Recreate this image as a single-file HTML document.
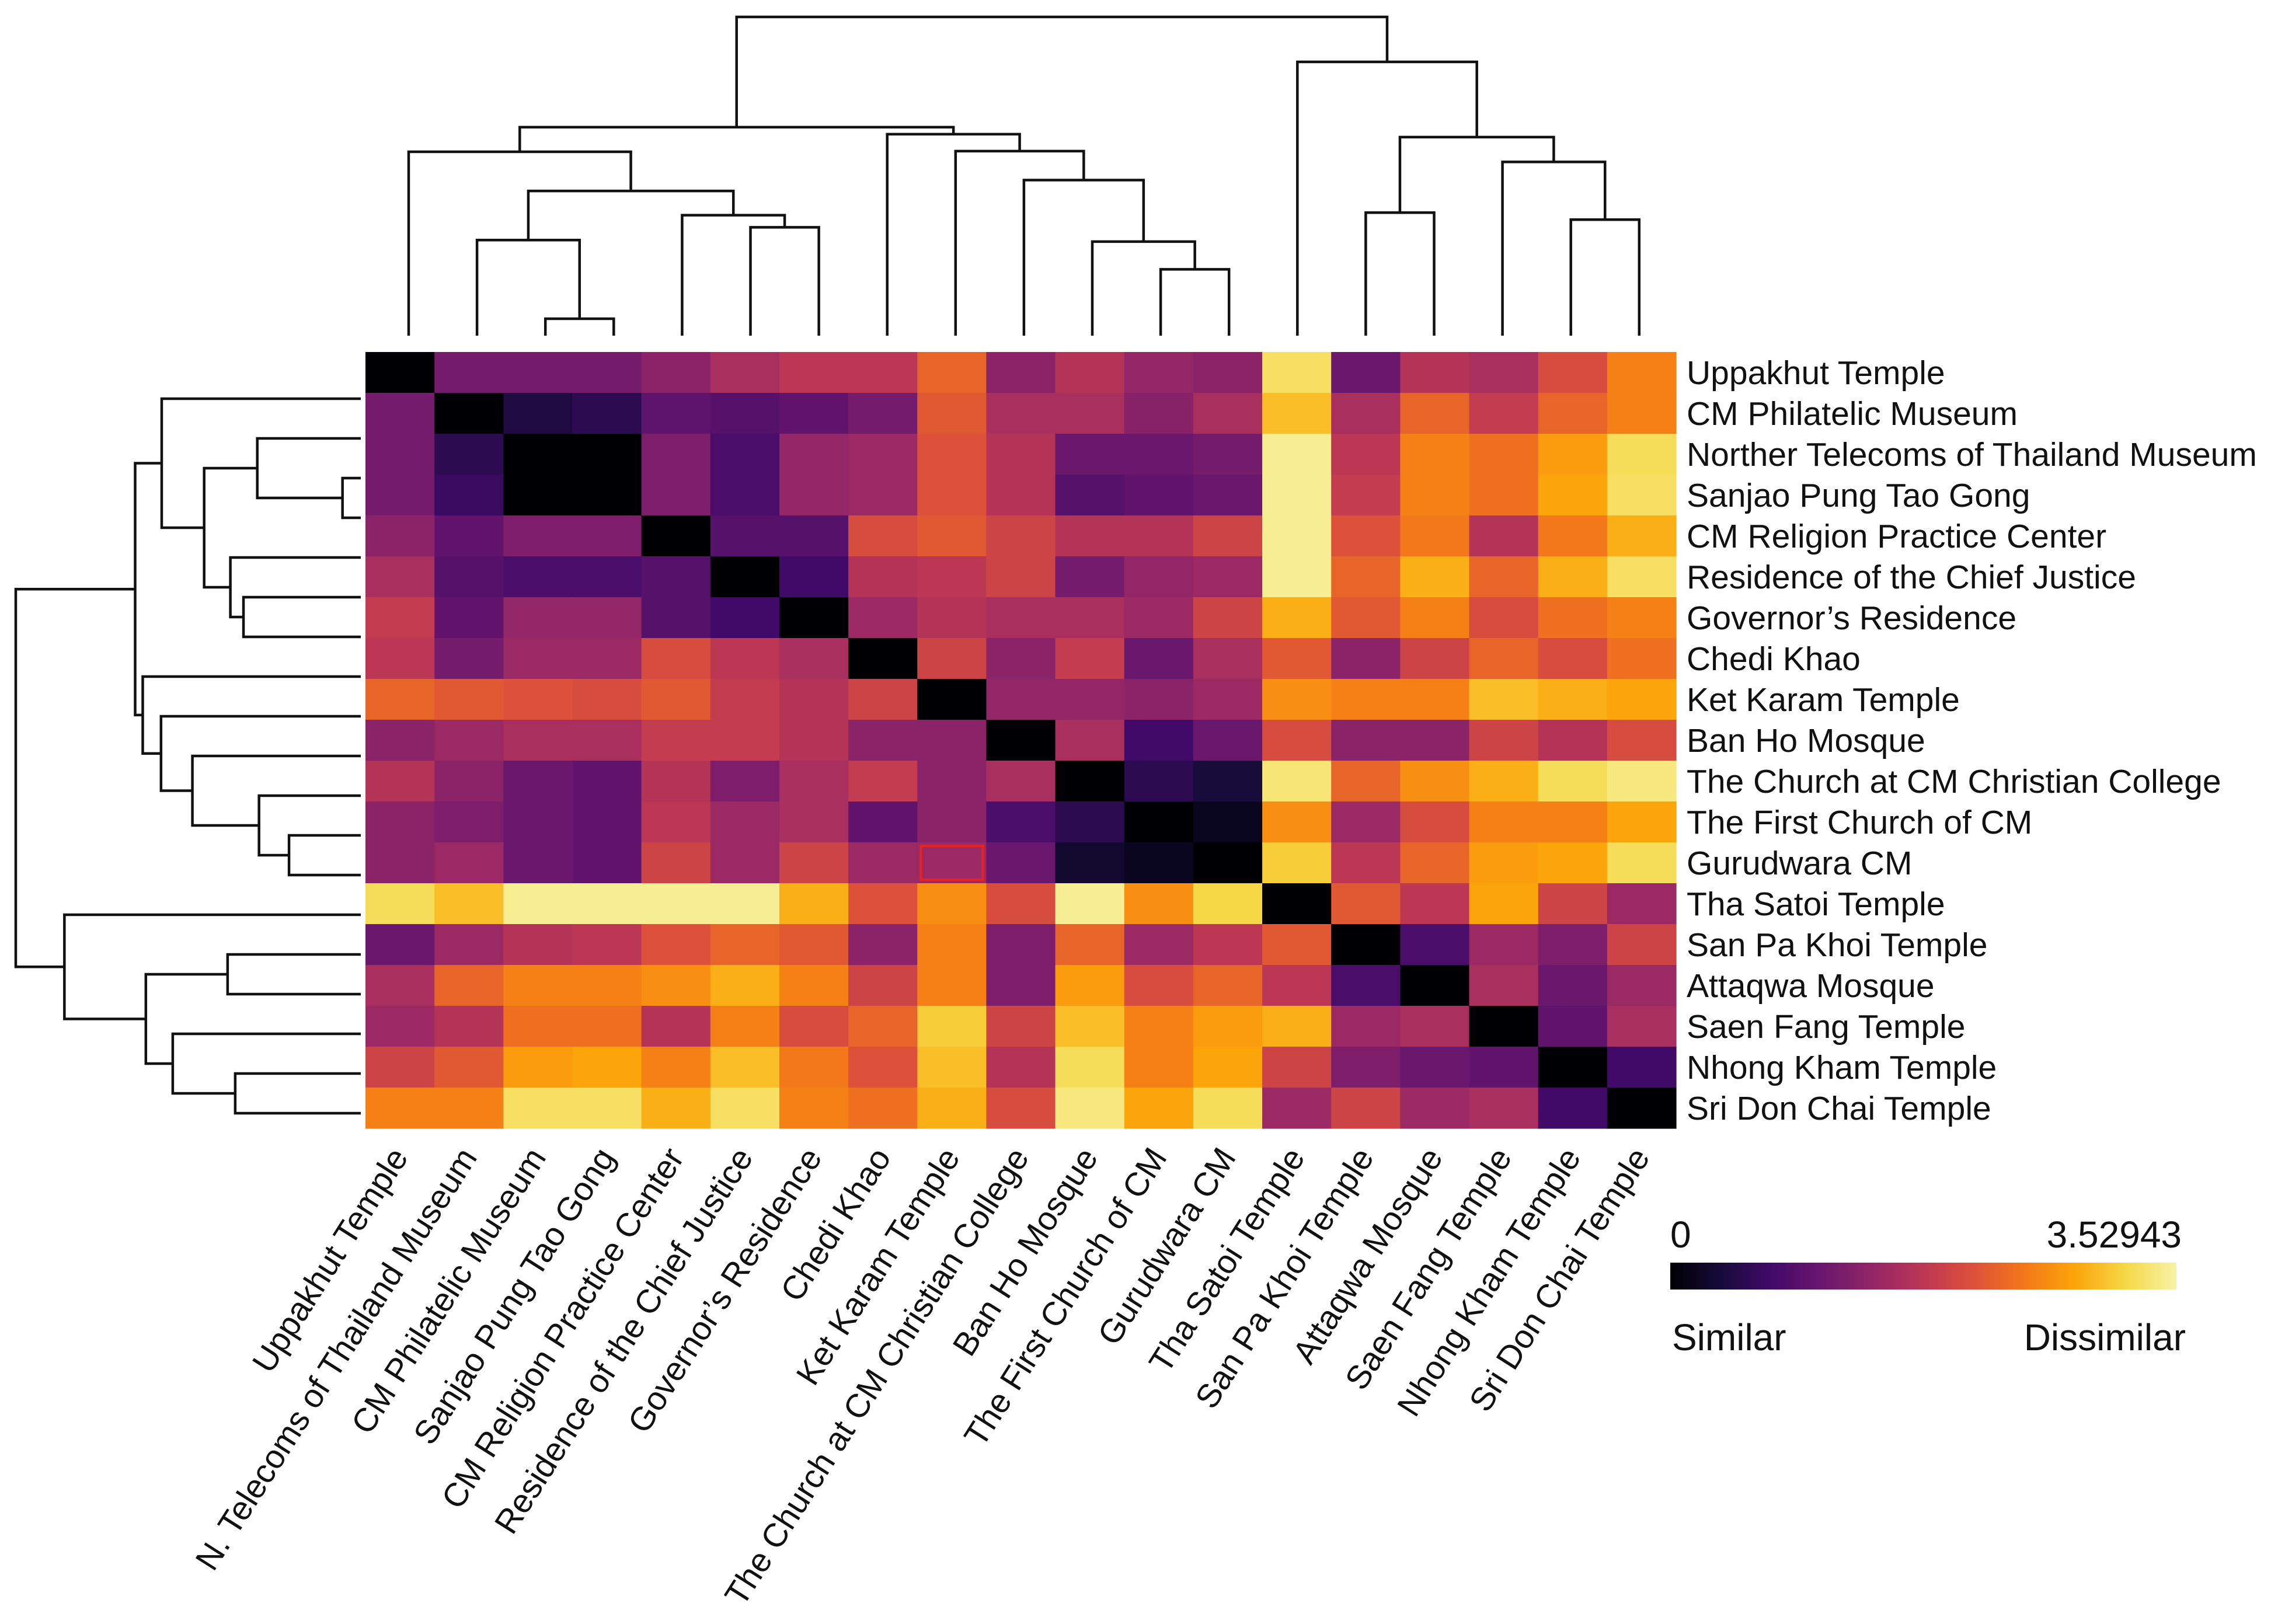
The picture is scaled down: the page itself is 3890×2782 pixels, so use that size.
<!DOCTYPE html>
<html><head><meta charset="utf-8">
<style>
html,body{margin:0;padding:0;background:#fff;}
svg{display:block;font-family:"Liberation Sans",sans-serif;}
</style></head>
<body>
<svg id="chart" width="3890" height="2782" viewBox="0 0 3890 2782" xmlns="http://www.w3.org/2000/svg">
<defs>
<linearGradient id="inferno" x1="0" x2="1" y1="0" y2="0">
<stop offset="0" stop-color="#000004"/><stop offset="0.1" stop-color="#160b39"/><stop offset="0.2" stop-color="#420a68"/><stop offset="0.3" stop-color="#6a176e"/><stop offset="0.4" stop-color="#932667"/><stop offset="0.5" stop-color="#bc3754"/><stop offset="0.6" stop-color="#dd513a"/><stop offset="0.7" stop-color="#f37819"/><stop offset="0.8" stop-color="#fca50a"/><stop offset="0.9" stop-color="#f6d746"/><stop offset="1" stop-color="#f7f3a6"/>
</linearGradient>
</defs>
<g id="heatmap"></g>
<g id="topdendro"></g>
<g id="leftdendro"></g>
<g id="rowlabels"></g>
<g id="collabels"></g>
<g>
<rect x="2861" y="2163" width="867" height="46" fill="url(#inferno)"/>
<text x="2861" y="2137" font-size="64" fill="#111">0</text>
<text x="3737" y="2137" font-size="64" fill="#111" text-anchor="end">3.52943</text>
<text x="2864" y="2313" font-size="64" fill="#111">Similar</text>
<text x="3744" y="2313" font-size="64" fill="#111" text-anchor="end">Dissimilar</text>
</g>
</svg>
<script>
const rowLabels = ["Uppakhut Temple","CM Philatelic Museum","Norther Telecoms of Thailand Museum","Sanjao Pung Tao Gong","CM Religion Practice Center","Residence of the Chief Justice","Governor’s Residence","Chedi Khao","Ket Karam Temple","Ban Ho Mosque","The Church at CM Christian College","The First Church of CM","Gurudwara CM","Tha Satoi Temple","San Pa Khoi Temple","Attaqwa Mosque","Saen Fang Temple","Nhong Kham Temple","Sri Don Chai Temple"];
const colLabels = ["Uppakhut Temple","N. Telecoms of Thailand Museum","CM Philatelic Museum","Sanjao Pung Tao Gong","CM Religion Practice Center","Residence of the Chief Justice","Governor’s Residence","Chedi Khao","Ket Karam Temple","The Church at CM Christian College","Ban Ho Mosque","The First Church of CM","Gurudwara CM","Tha Satoi Temple","San Pa Khoi Temple","Attaqwa Mosque","Saen Fang Temple","Nhong Kham Temple","Sri Don Chai Temple"];
const vmax = 1;
const matrix = [
[0,0.33,0.33,0.33,0.38,0.45,0.5,0.5,0.65,0.38,0.48,0.4,0.38,0.93,0.3,0.48,0.45,0.58,0.72],
[0.33,0,0.12,0.15,0.27,0.25,0.28,0.33,0.62,0.45,0.45,0.37,0.45,0.85,0.45,0.65,0.52,0.65,0.72],
[0.33,0.15,0,0,0.35,0.22,0.4,0.42,0.6,0.48,0.3,0.3,0.33,0.98,0.5,0.72,0.68,0.78,0.92],
[0.33,0.18,0,0,0.35,0.22,0.4,0.42,0.6,0.48,0.25,0.28,0.3,0.98,0.52,0.72,0.68,0.8,0.93],
[0.38,0.28,0.35,0.35,0,0.25,0.25,0.58,0.62,0.55,0.48,0.48,0.55,0.98,0.6,0.7,0.48,0.7,0.82],
[0.45,0.25,0.22,0.22,0.25,0,0.2,0.48,0.5,0.55,0.33,0.4,0.42,0.98,0.65,0.82,0.65,0.82,0.93],
[0.52,0.28,0.4,0.4,0.25,0.2,0,0.42,0.48,0.45,0.45,0.42,0.55,0.82,0.62,0.72,0.58,0.68,0.72],
[0.5,0.33,0.42,0.42,0.58,0.5,0.45,0,0.55,0.38,0.52,0.3,0.45,0.62,0.38,0.55,0.65,0.58,0.68],
[0.65,0.62,0.6,0.58,0.62,0.52,0.48,0.55,0,0.4,0.4,0.38,0.42,0.75,0.72,0.72,0.85,0.82,0.8],
[0.38,0.42,0.45,0.45,0.52,0.52,0.48,0.38,0.38,0,0.45,0.2,0.3,0.58,0.38,0.38,0.55,0.48,0.58],
[0.48,0.38,0.3,0.28,0.48,0.35,0.45,0.52,0.38,0.45,0,0.15,0.1,0.95,0.65,0.75,0.82,0.92,0.96],
[0.38,0.35,0.3,0.28,0.5,0.42,0.45,0.28,0.38,0.22,0.15,0,0.05,0.75,0.42,0.58,0.72,0.72,0.8],
[0.38,0.42,0.3,0.28,0.55,0.42,0.55,0.42,0.42,0.3,0.08,0.05,0,0.88,0.5,0.65,0.78,0.8,0.92],
[0.92,0.85,0.98,0.98,0.98,0.98,0.82,0.6,0.75,0.58,0.98,0.75,0.9,0,0.62,0.5,0.8,0.55,0.42],
[0.3,0.42,0.48,0.5,0.6,0.65,0.62,0.38,0.72,0.35,0.65,0.42,0.5,0.62,0,0.22,0.42,0.35,0.55],
[0.45,0.65,0.72,0.72,0.75,0.82,0.72,0.55,0.72,0.35,0.78,0.58,0.65,0.5,0.22,0,0.45,0.3,0.42],
[0.42,0.48,0.68,0.68,0.48,0.72,0.58,0.65,0.88,0.55,0.85,0.72,0.78,0.82,0.42,0.45,0,0.28,0.45],
[0.55,0.62,0.78,0.8,0.72,0.85,0.7,0.6,0.85,0.48,0.92,0.72,0.8,0.55,0.35,0.3,0.28,0,0.2],
[0.72,0.72,0.93,0.93,0.82,0.93,0.72,0.68,0.82,0.58,0.96,0.8,0.92,0.42,0.55,0.42,0.45,0.2,0]
];
// dendrogram merges: node ids 0-18 leaves, 19+ merges in order
const mergeA = [2,1,5,4,20,0,11,10,9,8,7,24,14,17,16,31,13,30];
const mergeB = [3,19,6,21,22,23,12,25,26,27,28,29,15,18,32,33,34,35];
const mergeH = [0.053,0.30,0.34,0.378,0.454,0.577,0.208,0.295,0.488,0.579,0.632,0.654,0.386,0.364,0.545,0.623,0.859,1.0];
const highlightRow = [12];
const highlightCol = [8];

const NS = "http://www.w3.org/2000/svg";
const HX0 = 626, HX1 = 2871, HY0 = 603, HY1 = 1933;
const n = matrix.length;
const cw = (HX1 - HX0) / n, ch = (HY1 - HY0) / n;
const xCell = j => HX0 + j * cw;
const yCell = i => HY0 + i * ch;
const stops = [[0,0,0,4],[0.1,22,11,57],[0.2,66,10,104],[0.3,106,23,110],[0.4,147,38,103],[0.5,188,55,84],[0.6,221,81,58],[0.7,243,120,25],[0.8,252,165,10],[0.9,246,215,70],[1,247,243,166]];
function inferno(v){
  const t = Math.max(0, Math.min(1, v / vmax));
  for (let k = 1; k < stops.length; k++) {
    if (t <= stops[k][0]) {
      const a = stops[k-1], b = stops[k], f = (t - a[0]) / (b[0] - a[0]);
      return `rgb(${Math.round(a[1]+(b[1]-a[1])*f)},${Math.round(a[2]+(b[2]-a[2])*f)},${Math.round(a[3]+(b[3]-a[3])*f)})`;
    }
  }
  return "rgb(247,243,166)";
}
function mk(tag, attrs, parent){
  const e = document.createElementNS(NS, tag);
  for (const k in attrs) e.setAttribute(k, attrs[k]);
  parent.appendChild(e);
  return e;
}
const hm = document.getElementById("heatmap");
for (let i = 0; i < n; i++) for (let j = 0; j < n; j++) {
  const r = mk("rect", {x: xCell(j), y: yCell(i), width: cw + 0.6, height: ch + 0.6, fill: inferno(matrix[i][j])}, hm);
  
  
}
for (let k = 0; k < highlightRow.length; k++) {
  const r = mk("rect", {x: xCell(highlightCol[k]) + 6, y: yCell(highlightRow[k]) + 6, width: cw - 12, height: ch - 12, fill: "none", stroke: "#e8231f", "stroke-width": 4}, hm);
  
  
}
// row labels
const rl = document.getElementById("rowlabels");
rowLabels.forEach((s, i) => {
  const t = mk("text", {x: 2889, y: yCell(i) + ch / 2 + 20, "font-size": 57, fill: "#111"}, rl);
  t.textContent = s;
  
  
});
// column labels
const cl = document.getElementById("collabels");
colLabels.forEach((s, j) => {
  const cx = xCell(j) + cw / 2 - 18, cy = HY1 + 28;
  const t = mk("text", {x: cx, y: cy, "font-size": 57, fill: "#111", "text-anchor": "end", transform: `rotate(-57.5 ${cx} ${cy})`, dy: "0.7em"}, cl);
  t.textContent = s;
  
  
});
// dendrograms
function drawDendro(group, leafPos, hPos, vertical){
  const pos = [], ht = [];
  for (let i = 0; i < n; i++) { pos.push(leafPos(i)); ht.push(0); }
  for (let m = 0; m < mergeA.length; m++) {
    const a = mergeA[m], b = mergeB[m], h = mergeH[m];
    const pa = pos[a], pb = pos[b], ph = hPos(h), ha = hPos(ht[a]), hb = hPos(ht[b]);
    let d;
    if (vertical) d = `M${pa},${ha}V${ph}H${pb}V${hb}`;
    else d = `M${ha},${pa}H${ph}V${pb}H${hb}`;
    const p = mk("path", {d: d, fill: "none", stroke: "#111", "stroke-width": 4.5}, group);
    
    
    pos.push((pa + pb) / 2); ht.push(h);
  }
}
drawDendro(document.getElementById("topdendro"), i => 700 + 117.1 * i, h => 575 - h * 546, true);
drawDendro(document.getElementById("leftdendro"), i => 683 + 68.0 * i, h => 618 - h * 591, false);
</script>
</body></html>
